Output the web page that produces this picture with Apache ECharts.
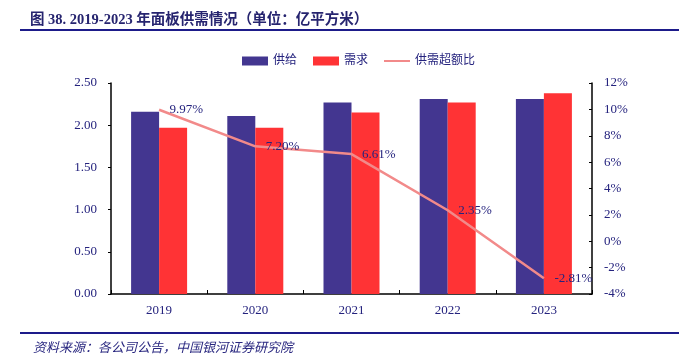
<!DOCTYPE html>
<html><head><meta charset="utf-8">
<script src="https://cdn.jsdelivr.net/npm/echarts@6/dist/echarts.min.js"></script>
<style>html,body{margin:0;padding:0;background:#fff}#c{width:679px;height:362px}</style>
</head><body><div id="c"></div>
<script>
const categories = ['2019','2020','2021','2022','2023'];
const supply = [2.16, 2.11, 2.27, 2.31, 2.31];
const demand = [1.97, 1.97, 2.15, 2.27, 2.38];
const ratio = [9.97, 7.20, 6.61, 2.35, -2.81];
const leftTicks = {min: 0, max: 2.5, interval: 0.5};
const rightTicks = {min: -4, max: 12, interval: 2};

const navy = '#25237e';
const lineColor = '#f28a8a';
const serif = '"Liberation Serif","Times New Roman","Noto Sans CJK SC",serif';
const chart = echarts.init(document.getElementById('c'), null, {renderer: 'canvas'});
chart.setOption({
  animation: false,
  backgroundColor: '#fff',
  title: {
    text: '图 38. 2019-2023 年面板供需情况（单位：亿平方米）',
    left: 25, top: 8,
    textStyle: {fontFamily: serif, fontSize: 14.5, fontWeight: 'bold', color: '#26246f'}
  },
  graphic: [
    {type: 'rect', shape: {x: 20, y: 29, width: 659, height: 2}, style: {fill: '#1d1b8a'}},
    {type: 'rect', shape: {x: 20, y: 332, width: 659, height: 2}, style: {fill: '#1d1b8a'}},
    {type: 'text', left: 33, top: 341, style: {text: '资料来源：各公司公告，中国银河证券研究院', fill: '#2a2880', font: 'italic 13px "Noto Sans CJK SC"'}}
  ],
  legend: {
    top: 50, left: 237,
    itemGap: 16, itemWidth: 26, itemHeight: 9,
    textStyle: {fontFamily: serif, fontSize: 12, color: navy},
    data: [
      {name: '供给', icon: 'rect'},
      {name: '需求', icon: 'rect'},
      {name: '供需超额比', icon: 'path://M0,0 L26,0 L26,2 L0,2 Z', itemStyle: {color: lineColor, opacity: 1}}
    ]
  },
  grid: {left: 111, right: 87, top: 83, bottom: 68},
  xAxis: {
    type: 'category', data: categories,
    axisLine: {lineStyle: {color: '#000', width: 1.5}},
    axisTick: {show: true, inside: true, length: 4, lineStyle: {color: '#000'}},
    axisLabel: {fontFamily: serif, fontSize: 13, color: navy, margin: 10}
  },
  yAxis: [
    {
      type: 'value', min: leftTicks.min, max: leftTicks.max, interval: leftTicks.interval,
      axisLine: {show: true, lineStyle: {color: '#000', width: 1.5}},
      axisTick: {show: true, length: 3, lineStyle: {color: '#000'}},
      splitLine: {show: false},
      axisLabel: {fontFamily: serif, fontSize: 13, color: navy, margin: 14, formatter: v => v.toFixed(2)}
    },
    {
      type: 'value', min: rightTicks.min, max: rightTicks.max, interval: rightTicks.interval,
      position: 'right',
      axisLine: {show: true, lineStyle: {color: '#000', width: 1.5}},
      axisTick: {show: true, inside: true, length: 3, lineStyle: {color: '#000'}},
      splitLine: {show: false},
      axisLabel: {fontFamily: serif, fontSize: 13, color: navy, margin: 12, formatter: '{value}%'}
    }
  ],
  series: [
    {name: '供给', type: 'bar', data: supply, barWidth: 28, barGap: '0%', itemStyle: {color: '#433690'}},
    {name: '需求', type: 'bar', data: demand, barWidth: 28, barGap: '0%', itemStyle: {color: '#ff3335'}},
    {name: '供需超额比', type: 'line', yAxisIndex: 1, data: ratio, symbol: 'circle', symbolSize: 1, showSymbol: true, smooth: false,
      lineStyle: {color: lineColor, width: 2.5}, itemStyle: {color: 'rgba(0,0,0,0)', borderWidth: 0},
      label: {show: true, position: 'right', distance: 10, fontFamily: serif, fontSize: 13, color: navy,
        formatter: p => p.value.toFixed(2) + '%'}}
  ]
});
</script></body></html>
